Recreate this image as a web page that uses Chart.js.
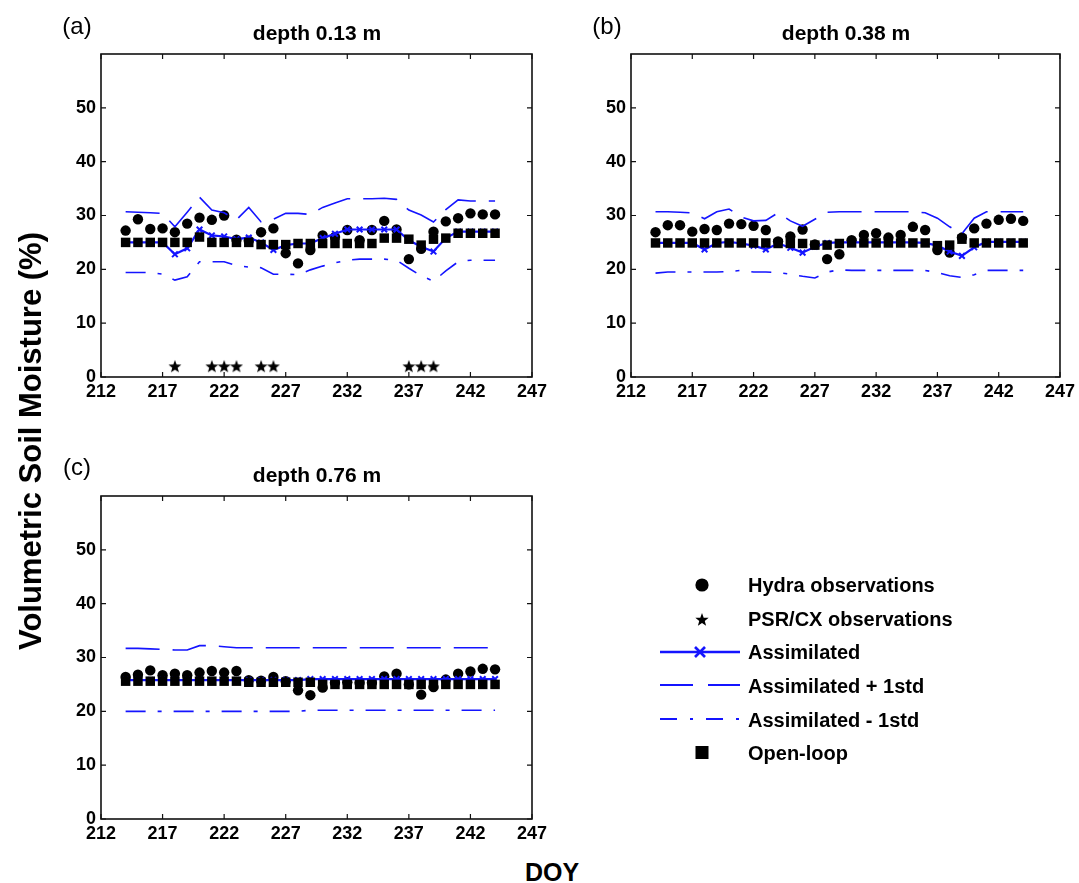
<!DOCTYPE html>
<html><head><meta charset="utf-8">
<script src="https://cdn.jsdelivr.net/npm/chart.js@4.4.0/dist/chart.umd.min.js"></script>
<style>
html,body{margin:0;padding:0;background:#fff;}
body{width:1079px;height:883px;overflow:hidden;position:relative;font-family:"Liberation Sans",Arial,Helvetica,sans-serif;color:#000;}
canvas{position:absolute;}
.t{position:absolute;white-space:nowrap;transform:translate(-50%,-50%);line-height:1;}
.b{font-weight:bold;}
.lg{position:absolute;white-space:nowrap;font-weight:bold;font-size:20px;line-height:1;transform:translateY(-50%);}
</style></head>
<body>
<canvas id="ca" width="560" height="410" style="left:0;top:0"></canvas>
<canvas id="cb" width="539" height="410" style="left:540px;top:0"></canvas>
<canvas id="cc" width="560" height="410" style="left:0;top:442px"></canvas>

<div class="t" style="left:77px;top:26px;font-size:24px;">(a)</div>
<div class="t b" style="left:317px;top:32px;font-size:21px;">depth 0.13 m</div>
<div class="t" style="left:607px;top:26px;font-size:24px;">(b)</div>
<div class="t b" style="left:846px;top:32px;font-size:21px;">depth 0.38 m</div>
<div class="t" style="left:77px;top:467px;font-size:24px;">(c)</div>
<div class="t b" style="left:317px;top:474px;font-size:21px;">depth 0.76 m</div>
<div class="t b" style="left:30px;top:441px;font-size:31px;transform:translate(-50%,-50%) rotate(-90deg);">Volumetric Soil Moisture (%)</div>
<div class="t b" style="left:552px;top:872px;font-size:25px;">DOY</div>

<svg id="lsvg" width="1079" height="883" style="position:absolute;left:0;top:0;pointer-events:none"></svg>
<div class="lg" style="left:748px;top:585px;">Hydra observations</div>
<div class="lg" style="left:748px;top:619px;">PSR/CX observations</div>
<div class="lg" style="left:748px;top:652px;">Assimilated</div>
<div class="lg" style="left:748px;top:686px;">Assimilated + 1std</div>
<div class="lg" style="left:748px;top:720px;">Assimilated - 1std</div>
<div class="lg" style="left:748px;top:753px;">Open-loop</div>

<script>
// ---------- data ----------
const days = [214,215,216,217,218,219,220,221,222,223,224,225,226,227,228,229,230,231,232,233,234,235,236,237,238,239,240,241,242,243,244];
const xTicks = [212,217,222,227,232,237,242,247];
const yTicks = [0,10,20,30,40,50];

// panel (a) depth 0.13 m
const hydraA = [27.2,29.3,27.5,27.6,26.9,28.5,29.6,29.2,30.0,25.5,25.3,26.9,27.6,23.0,21.1,23.6,26.3,26.0,27.3,25.4,27.3,29.0,27.4,21.9,23.8,27.0,28.9,29.5,30.4,30.2,30.2];
const openA  = [25.0,25.0,25.0,25.0,25.0,25.0,26.0,25.0,25.0,25.0,25.0,24.6,24.6,24.6,24.8,24.8,24.8,24.8,24.8,24.8,24.8,25.8,25.8,25.6,24.5,25.6,25.8,26.7,26.7,26.7,26.7];
const assimA = [25.0,25.0,25.0,25.0,22.8,23.9,27.4,26.3,26.1,25.6,25.9,25.0,23.6,24.5,24.8,24.8,25.8,26.6,27.4,27.4,27.4,27.4,27.4,25.4,24.2,23.3,25.8,27.0,27.0,27.0,27.0];
const upperA = [30.7,30.6,30.5,30.4,27.9,30.6,33.4,31.0,30.5,29.2,31.5,28.8,29.3,30.4,30.4,30.2,31.5,32.3,33.1,33.1,33.1,33.2,33.0,31.0,30.1,28.8,31.1,32.9,32.7,32.7,32.7];
const lowerA = [19.4,19.4,19.4,19.1,18.0,18.6,21.4,21.4,21.4,20.7,20.4,20.3,19.1,19.1,19.0,19.9,20.6,21.2,21.7,21.9,21.9,21.9,21.7,20.2,18.8,17.8,19.7,21.4,21.7,21.7,21.7];
const starDays = [218,221,222,223,225,226,237,238,239];
const starVals = [2,2,2,2,2,2,2,2,2];

// panel (b) depth 0.38 m
const hydraB = [26.9,28.2,28.2,27.0,27.5,27.3,28.5,28.4,28.1,27.3,25.2,26.1,27.4,24.6,21.9,22.8,25.4,26.4,26.7,25.9,26.4,27.9,27.3,23.6,23.1,25.9,27.6,28.5,29.2,29.4,29.0];
const openB  = [24.9,24.9,24.9,24.9,24.9,24.9,24.9,24.9,24.9,24.9,24.8,24.8,24.8,24.5,24.5,24.8,24.9,24.9,24.9,24.9,24.9,24.9,24.9,24.4,24.5,25.6,24.9,24.9,24.9,24.9,24.9];
const assimB = [24.9,24.9,24.9,24.9,23.7,24.9,25.1,24.8,24.4,23.7,24.8,24.0,23.1,24.2,24.9,25.0,25.0,25.0,25.0,25.0,25.0,25.0,24.9,24.4,23.3,22.5,24.1,25.1,25.1,25.1,25.1];
const upperB = [30.7,30.7,30.6,30.5,29.4,30.7,31.2,29.7,29.0,29.1,30.5,29.0,28.0,29.3,30.6,30.7,30.7,30.7,30.7,30.7,30.7,30.7,30.5,29.5,27.9,26.6,29.5,30.7,30.7,30.7,30.7];
const lowerB = [19.3,19.5,19.5,19.5,19.5,19.5,19.6,19.8,19.5,19.5,19.4,19.1,18.7,18.4,19.5,19.9,19.8,19.8,19.8,19.8,19.8,19.8,19.8,19.4,18.8,18.5,19.0,19.8,19.8,19.8,19.8];

// panel (c) depth 0.76 m
const hydraC = [26.4,26.8,27.6,26.7,27.0,26.7,27.2,27.5,27.2,27.5,25.8,25.7,26.4,25.6,23.9,23.0,24.4,25.3,25.4,25.3,25.3,26.5,27.0,25.0,23.1,24.5,25.9,27.0,27.4,27.9,27.8];
const openC  = [25.6,25.6,25.6,25.6,25.6,25.6,25.6,25.6,25.6,25.6,25.4,25.4,25.4,25.4,25.4,25.4,25.0,25.0,25.0,25.0,25.0,25.0,25.0,25.0,25.0,25.0,25.0,25.0,25.0,25.0,25.0];
const assimC = [25.8,25.8,25.8,25.8,25.8,25.8,25.8,25.8,25.8,25.8,25.8,25.8,25.8,25.8,25.8,26.0,26.0,26.0,26.0,26.0,26.0,26.0,26.0,26.0,26.0,26.0,26.0,26.0,26.0,26.0,26.0];
const upperC = [31.7,31.7,31.6,31.5,31.4,31.4,32.2,32.2,32.0,31.8,31.8,31.8,31.8,31.8,31.8,31.8,31.8,31.8,31.8,31.8,31.8,31.8,31.8,31.8,31.8,31.8,31.8,31.8,31.8,31.8,31.8];
const lowerC = [20.0,20.0,20.0,20.0,20.0,20.0,20.0,20.0,20.0,20.0,20.0,20.0,20.0,20.0,20.0,20.2,20.2,20.2,20.2,20.2,20.2,20.2,20.2,20.2,20.2,20.2,20.2,20.2,20.2,20.2,20.2];

// ---------- styling ----------
const BLUE = 'rgb(20,20,255)';
const FONT = '"Liberation Sans", Arial, Helvetica, sans-serif';
const DASH_UP = [34,13];
const DASH_LO = [20,12,4,12];

function pts(xs, ys){ return xs.map((x,i)=>({x:x, y:ys[i]})); }

function starPath(ctx, cx, cy, ro, ri){
  ctx.beginPath();
  for(let k=0;k<10;k++){
    const r = k%2===0 ? ro : ri;
    const a = -Math.PI/2 + k*Math.PI/5;
    const px = cx + r*Math.cos(a), py = cy + r*Math.sin(a);
    if(k===0) ctx.moveTo(px,py); else ctx.lineTo(px,py);
  }
  ctx.closePath();
}
const starImg = document.createElement('canvas');
starImg.width = 14; starImg.height = 14;
(function(){ const c = starImg.getContext('2d'); c.fillStyle='#000'; starPath(c,7,7.6,6.8,2.8); c.fill(); })();

const boxPlugin = {
  id:'box',
  afterDraw(chart){
    const ctx = chart.ctx, a = chart.chartArea, xs = chart.scales.x, ys = chart.scales.y;
    ctx.save();
    ctx.strokeStyle = '#111';
    ctx.lineWidth = 1.6;
    ctx.strokeRect(a.left, a.top, a.right-a.left, a.bottom-a.top);
    ctx.lineWidth = 1.2;
    ctx.beginPath();
    xTicks.forEach(v=>{ const p = xs.getPixelForValue(v);
      ctx.moveTo(p,a.bottom); ctx.lineTo(p,a.bottom-5);
      ctx.moveTo(p,a.top); ctx.lineTo(p,a.top+5); });
    yTicks.forEach(v=>{ const p = ys.getPixelForValue(v);
      ctx.moveTo(a.left,p); ctx.lineTo(a.left+5,p);
      ctx.moveTo(a.right,p); ctx.lineTo(a.right-5,p); });
    ctx.stroke();
    ctx.restore();
  }
};

function makeDatasets(hydra, open, assim, upper, lower, withStars){
  const ds = [
    {label:'Open-loop', data:pts(days, open), showLine:false, pointStyle:'rect', pointRadius:6.7,
     pointBackgroundColor:'#000', pointBorderColor:'#000', pointBorderWidth:0, order:0},
    {label:'Assimilated - 1std', data:pts(days, lower), showLine:true, borderColor:BLUE, borderWidth:1.6,
     borderDash:DASH_LO, pointRadius:0, fill:false, order:1},
    {label:'Assimilated + 1std', data:pts(days, upper), showLine:true, borderColor:BLUE, borderWidth:1.6,
     borderDash:DASH_UP, pointRadius:0, fill:false, order:2},
    {label:'Assimilated', data:pts(days, assim), showLine:true, borderColor:BLUE, borderWidth:2.2,
     pointStyle:'crossRot', pointRadius:4, pointBorderColor:BLUE, pointBorderWidth:2, fill:false, order:3},
    {label:'Hydra observations', data:pts(days, hydra), showLine:false, pointStyle:'circle', pointRadius:5.2,
     pointBackgroundColor:'#000', pointBorderColor:'#000', pointBorderWidth:0, order:5}
  ];
  if(withStars){
    ds.push({label:'PSR/CX observations', data:pts(starDays, starVals), showLine:false, pointStyle:starImg,
      pointRadius:5, order:4});
  }
  return ds;
}

function makeChart(id, yWidth, padRight, datasets){
  return new Chart(document.getElementById(id), {
    type:'scatter',
    data:{datasets:datasets},
    options:{
      responsive:false, animation:false, devicePixelRatio:1,
      layout:{padding:{top:54, right:padRight, left:0, bottom:0}},
      plugins:{legend:{display:false}, tooltip:{enabled:false}, title:{display:false}},
      scales:{
        x:{type:'linear', min:212, max:247,
           afterBuildTicks:s=>{ s.ticks = xTicks.map(v=>({value:v})); },
           afterFit:s=>{ s.height = 33; },
           grid:{display:false, drawTicks:false}, border:{display:false},
           ticks:{autoSkip:false, maxRotation:0, padding:4, color:'#000',
                  font:{family:FONT, size:18, weight:'bold'}}},
        y:{type:'linear', min:0, max:60,
           afterBuildTicks:s=>{ s.ticks = yTicks.map(v=>({value:v})); },
           afterFit:s=>{ s.width = yWidth; },
           grid:{display:false, drawTicks:false}, border:{display:false},
           ticks:{padding:5, color:'#000', font:{family:FONT, size:18, weight:'bold'}}}
      }
    },
    plugins:[boxPlugin]
  });
}

makeChart('ca', 101, 28, makeDatasets(hydraA, openA, assimA, upperA, lowerA, true));
makeChart('cb', 91, 17, makeDatasets(hydraB, openB, assimB, upperB, lowerB, false));
makeChart('cc', 101, 28, makeDatasets(hydraC, openC, assimC, upperC, lowerC, false));

// ---------- legend symbols ----------
(function(){
  const NS = 'http://www.w3.org/2000/svg';
  const svg = document.getElementById('lsvg');
  function el(name, attrs){ const e = document.createElementNS(NS, name); for(const k in attrs) e.setAttribute(k, attrs[k]); svg.appendChild(e); return e; }
  el('circle',{cx:702, cy:585, r:6.6, fill:'#000'});
  let p = [];
  for(let k=0;k<10;k++){ const r = k%2===0?7:2.9; const a=-Math.PI/2+k*Math.PI/5; p.push((702+r*Math.cos(a)).toFixed(2)+','+(620+r*Math.sin(a)).toFixed(2)); }
  el('polygon',{points:p.join(' '), fill:'#000'});
  el('line',{x1:660,y1:652,x2:740,y2:652,stroke:BLUE,'stroke-width':2.6});
  el('line',{x1:695,y1:647,x2:705,y2:657,stroke:BLUE,'stroke-width':2.6});
  el('line',{x1:695,y1:657,x2:705,y2:647,stroke:BLUE,'stroke-width':2.6});
  el('line',{x1:660,y1:685,x2:740,y2:685,stroke:BLUE,'stroke-width':1.8,'stroke-dasharray':'33 15'});
  el('line',{x1:660,y1:719,x2:740,y2:719,stroke:BLUE,'stroke-width':1.8,'stroke-dasharray':'17 13 3 13'});
  el('rect',{x:695.5,y:746,width:13,height:13,fill:'#000'});
})();
</script>
</body></html>
